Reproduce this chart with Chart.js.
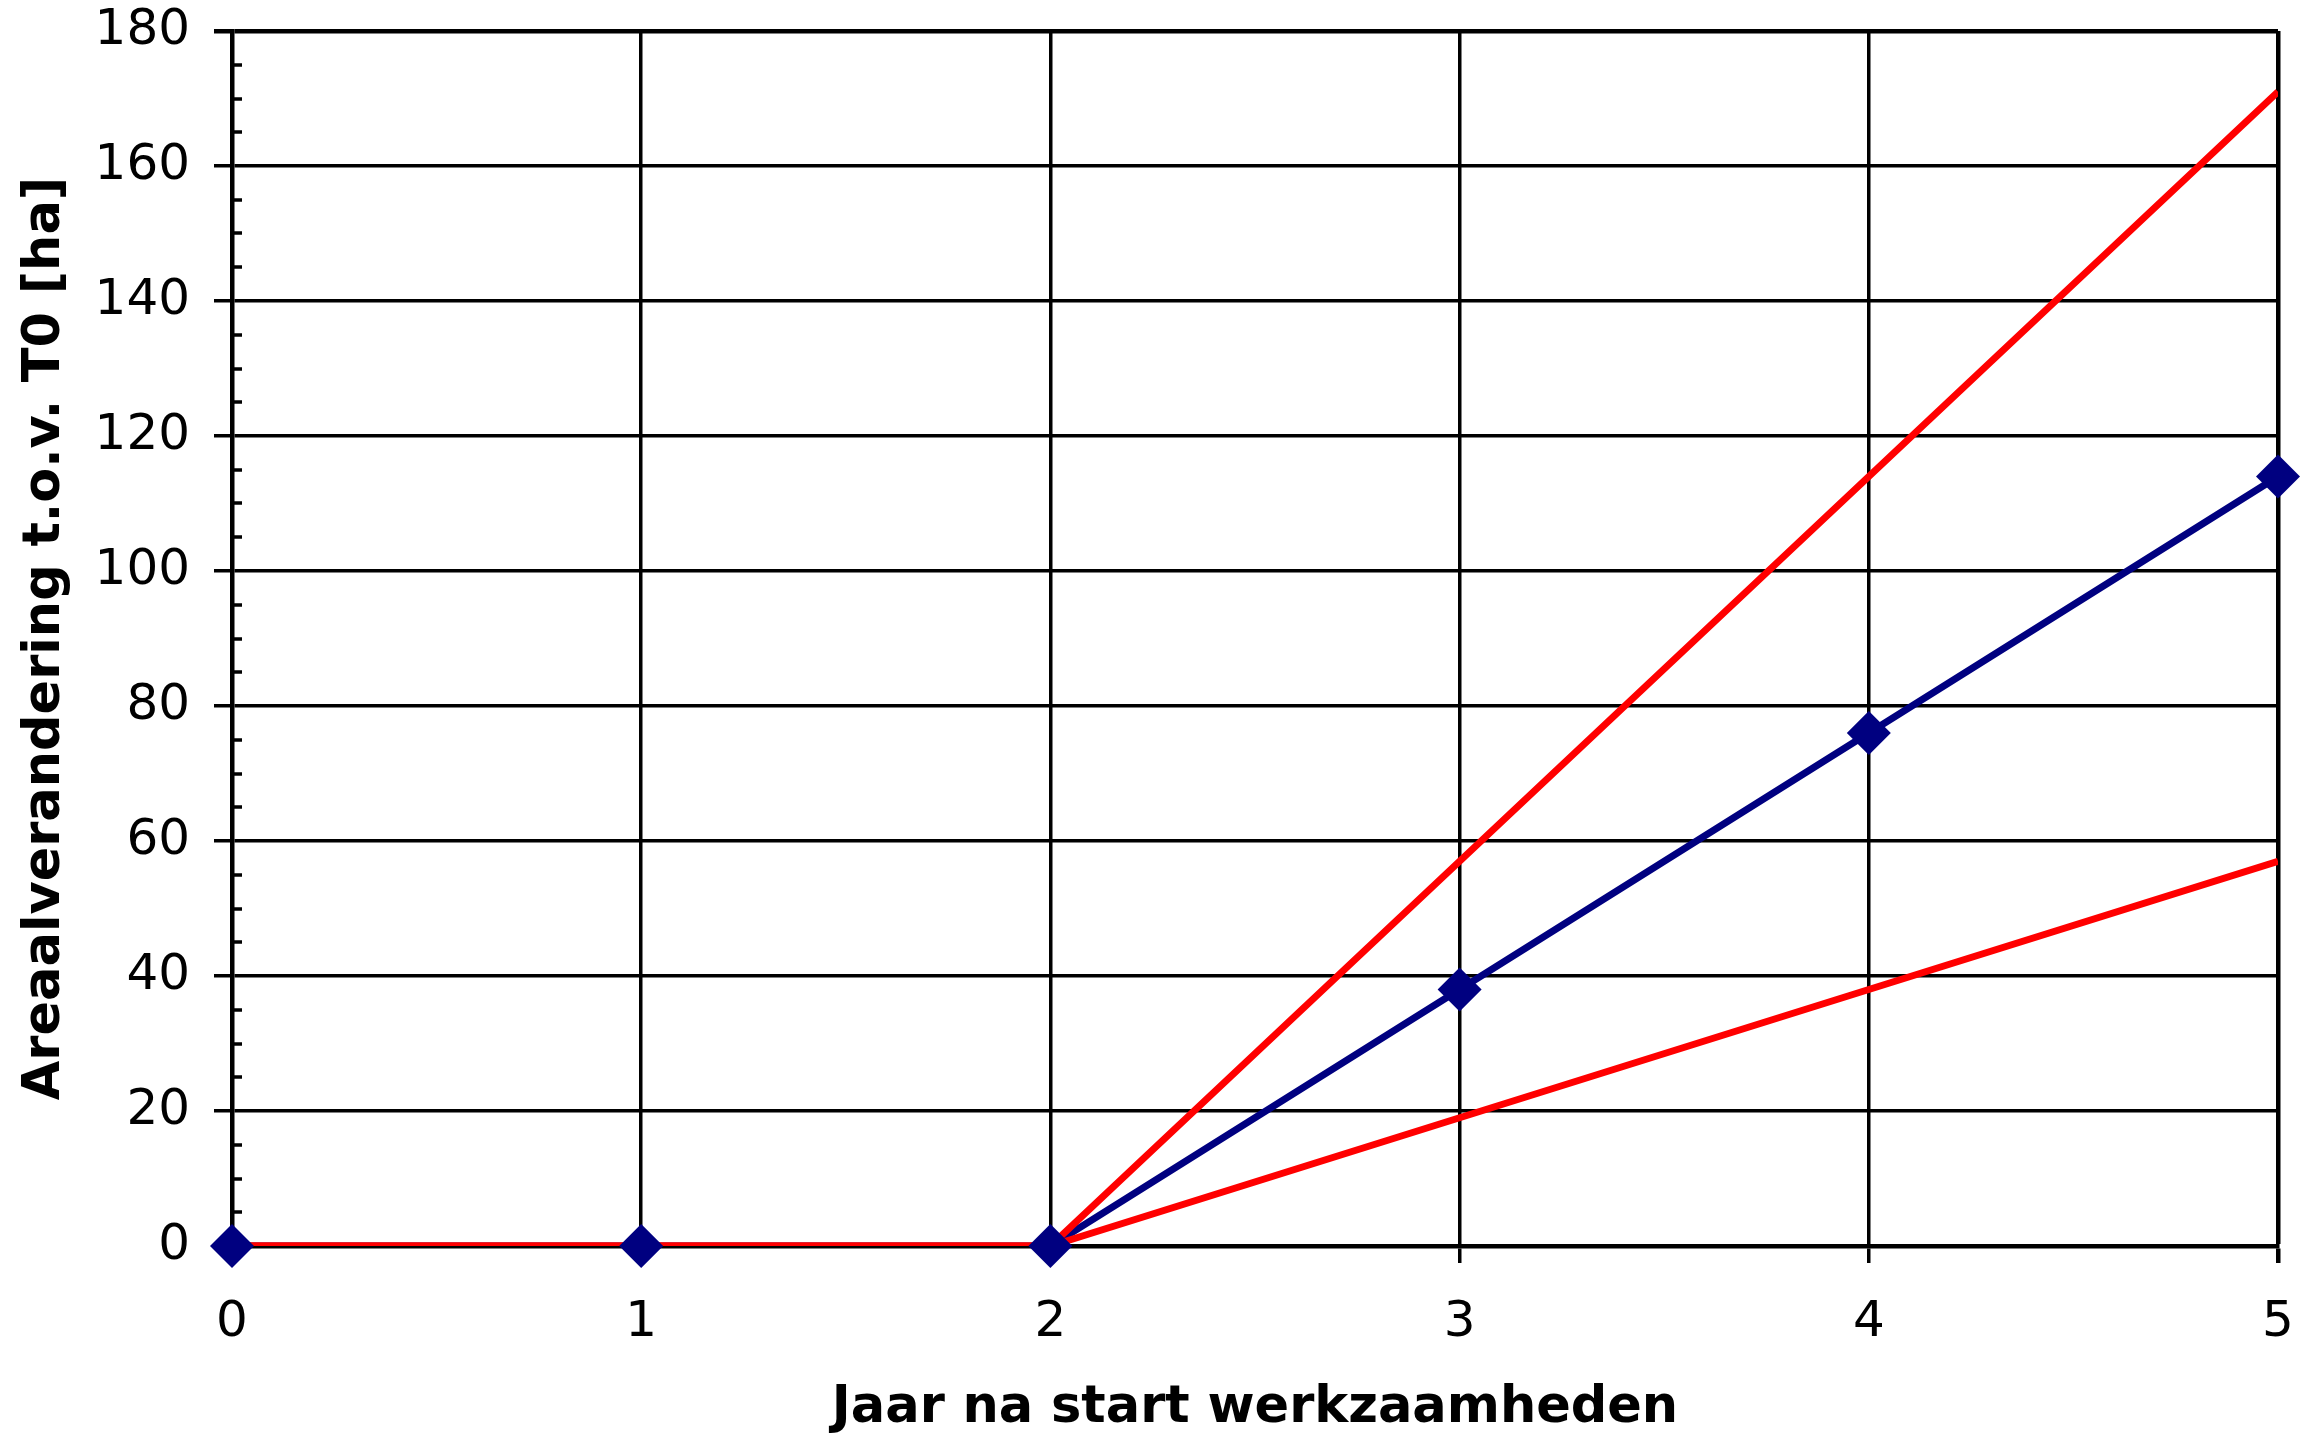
<!DOCTYPE html>
<html>
<head>
<meta charset="utf-8">
<script src="https://cdn.jsdelivr.net/npm/chart.js@4/dist/chart.umd.min.js"></script>
<style>
  body { margin: 0; background: #fff; }
  canvas { display: block; }
</style>
</head>
<body>
<canvas id="areaalChart" width="2314" height="1434" style="width:2314px;height:1434px"></canvas>
<script>
// Jaar na start werkzaamheden
const years = [0, 1, 2, 3, 4, 5];
// Areaalverandering t.o.v. T0 [ha]
const areaalVerwacht = [0, 0, 0, 38, 76, 114];
const areaalBoven = [0, 0, 0, 57, 114, 171];
const areaalOnder = [0, 0, 0, 19, 38, 57];

const yTicks = [0, 20, 40, 60, 80, 100, 120, 140, 160, 180];

function toPoints(values) {
    return years.map((x, i) => ({ x: x, y: values[i] }));
}

// small inner ticks on the y axis, every 5 ha
const minorTicks = {
    id: 'minorTicks',
    afterDraw(chart) {
        const y = chart.scales.y;
        const ctx = chart.ctx;
        const left = chart.chartArea.left;
        ctx.save();
        ctx.strokeStyle = '#000';
        ctx.lineWidth = 3.5;
        for (let v = y.min; v <= y.max; v += 5) {
            if (v % 20 === 0) continue;
            const py = Math.round(y.getPixelForValue(v));
            ctx.beginPath();
            ctx.moveTo(left, py);
            ctx.lineTo(left + 10, py);
            ctx.stroke();
        }
        ctx.restore();
    }
};

const ctx = document.getElementById('areaalChart').getContext('2d');
new Chart(ctx, {
    type: 'line',
    data: {
        datasets: [
            {
                label: 'verwacht (lijn)',
                data: toPoints(areaalVerwacht),
                borderColor: '#000080',
                borderWidth: 7,
                pointRadius: 0,
                order: 3
            },
            {
                label: 'bovengrens',
                data: toPoints(areaalBoven),
                borderColor: '#ff0000',
                borderWidth: 7,
                pointRadius: 0,
                order: 2
            },
            {
                label: 'ondergrens',
                data: toPoints(areaalOnder),
                borderColor: '#ff0000',
                borderWidth: 7,
                pointRadius: 0,
                order: 2
            },
            {
                label: 'verwacht',
                data: toPoints(areaalVerwacht),
                showLine: false,
                pointStyle: 'rectRot',
                pointRadius: 22,
                pointBackgroundColor: '#000080',
                pointBorderColor: '#000080',
                pointBorderWidth: 0,
                clip: false,
                order: 1
            }
        ]
    },
    options: {
        responsive: false,
        animation: false,
        devicePixelRatio: 1,
        layout: {
            padding: { left: 0, right: 36, top: 31, bottom: 0 }
        },
        plugins: {
            legend: { display: false },
            tooltip: { enabled: false }
        },
        scales: {
            x: {
                type: 'linear',
                min: 0,
                max: 5,
                afterFit: scale => {
                    scale.height = 188;
                    scale.paddingLeft = 0;
                    scale.paddingRight = 0;
                },
                ticks: {
                    stepSize: 1,
                    color: '#000',
                    padding: 35,
                    font: { family: 'DejaVu Sans', size: 50, lineHeight: 1 }
                },
                grid: {
                    color: '#000',
                    lineWidth: ctx => (ctx.index === 5 ? 4.5 : 3.5),
                    tickLength: 17
                },
                border: { display: true, color: '#000', width: 4.5 },
                title: {
                    display: true,
                    text: 'Jaar na start werkzaamheden',
                    color: '#000',
                    padding: 0,
                    font: { family: 'DejaVu Sans', size: 51, weight: 'bold', lineHeight: 1 }
                }
            },
            y: {
                type: 'linear',
                min: 0,
                max: 180,
                afterFit: scale => {
                    scale.width = 232;
                    scale.paddingTop = 0;
                    scale.paddingBottom = 0;
                },
                afterBuildTicks: scale => { scale.ticks = yTicks.map(v => ({ value: v })); },
                ticks: {
                    color: '#000',
                    padding: 24,
                    font: { family: 'DejaVu Sans', size: 50, lineHeight: 1 }
                },
                grid: {
                    color: '#000',
                    lineWidth: ctx => (ctx.index === yTicks.length - 1 ? 4.5 : 3.5),
                    tickLength: 18
                },
                border: { display: true, color: '#000', width: 4.5 },
                title: {
                    display: true,
                    text: 'Areaalverandering t.o.v. T0 [ha]',
                    color: '#000',
                    padding: { top: 20, bottom: 0 },
                    font: { family: 'DejaVu Sans', size: 51, weight: 'bold', lineHeight: 1 }
                }
            }
        }
    },
    plugins: [minorTicks]
});
</script>
</body>
</html>
